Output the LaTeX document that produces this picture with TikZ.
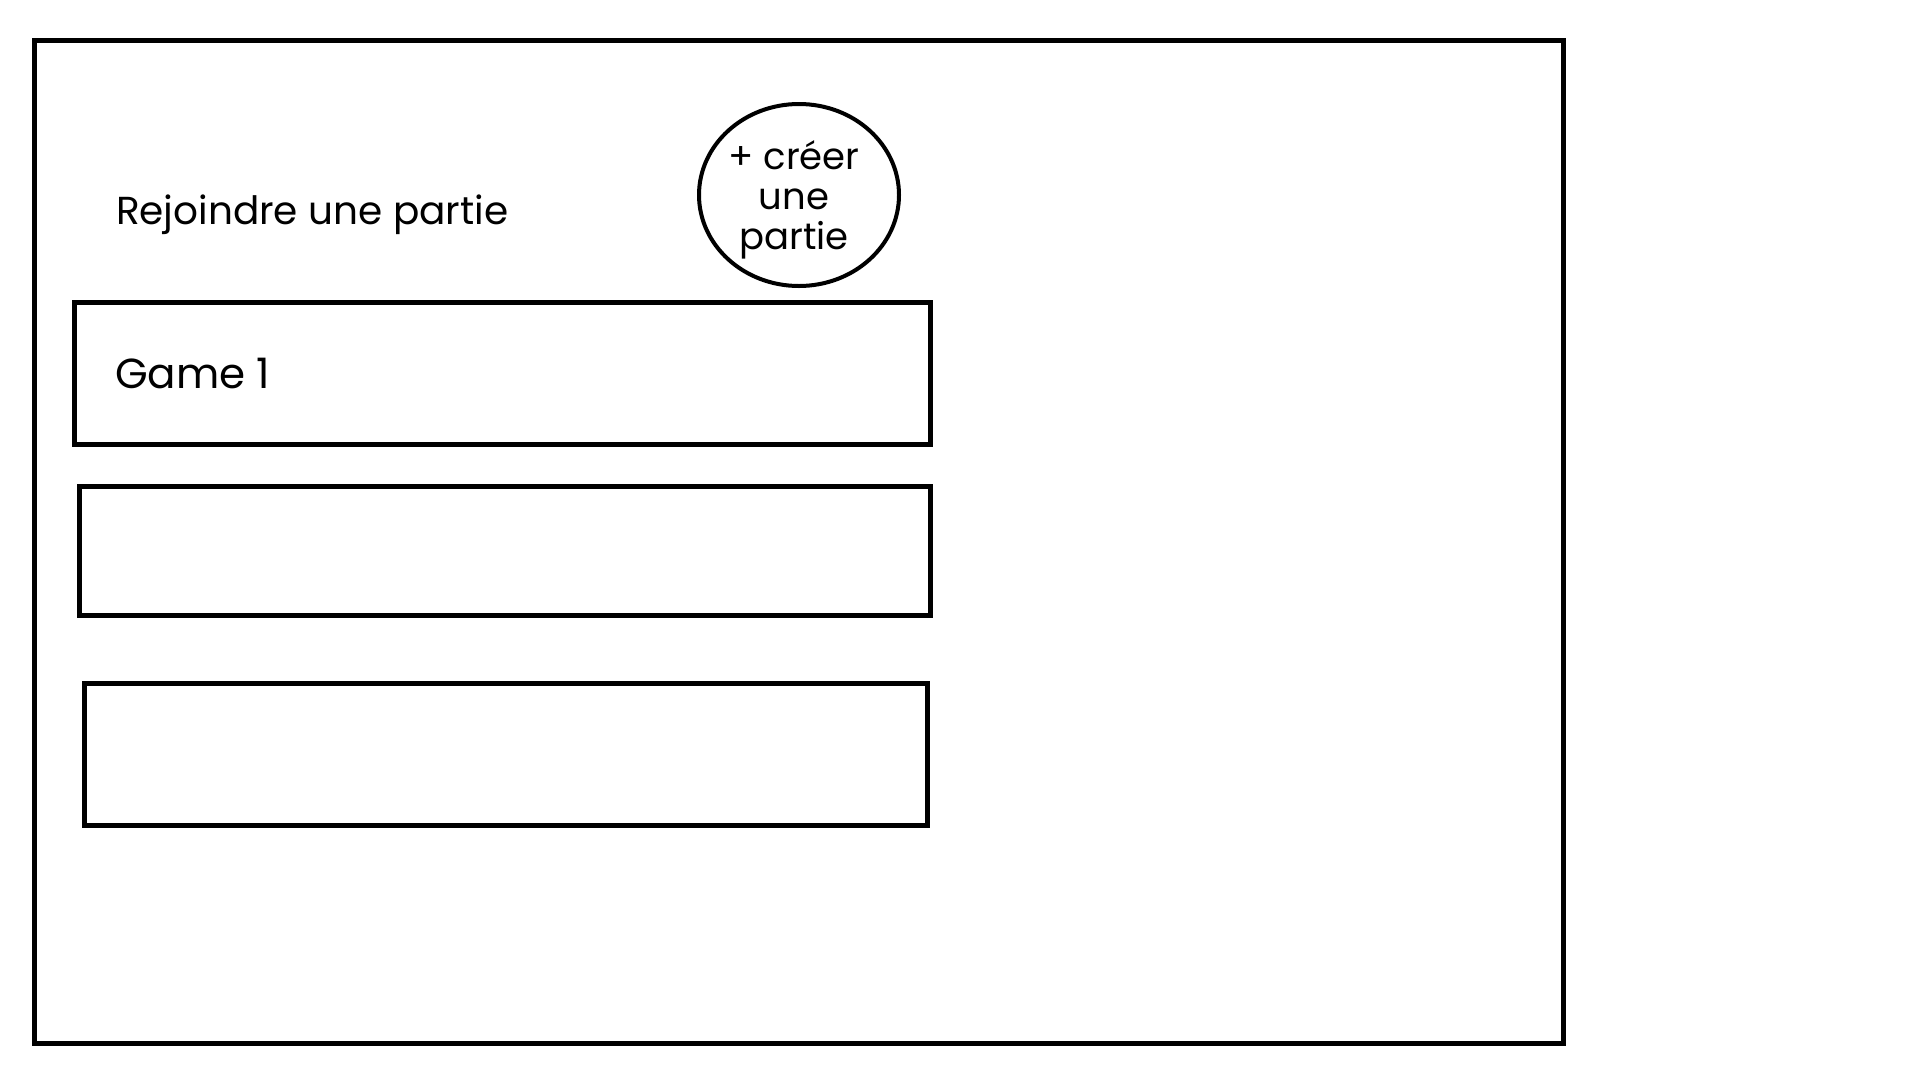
\documentclass[tikz,border=0pt]{standalone}
\usepackage{fontspec}
\setmainfont{Poppins}
\usetikzlibrary{shapes.geometric}
\begin{document}
\begin{tikzpicture}[x=1pt,y=-1pt,
  frame/.style={draw=black,line width=5pt,rectangle,inner sep=0pt,outer sep=0pt},
  bubble/.style={draw=black,line width=4pt,ellipse,inner sep=0pt},
  label/.style={inner sep=0pt,outer sep=0pt,font=\fontsize{39}{39}\selectfont}]
  \useasboundingbox[fill=white] (0,0) rectangle (1920,1080);
  % screen outline
  \node[frame,minimum width=1528.8pt,minimum height=1002.5pt] (screen) at (798.9,541.75) {};
  % title
  \node[label,anchor=base west] (title) at (116,224.5) {Rejoindre une partie};
  % create-game button
  \node[bubble,minimum width=200pt,minimum height=182pt] (create) at (799,195) {};
  \node[label,align=center,font=\fontsize{37}{40}\selectfont,anchor=base] (createtxt) at (794,249)
    {+ créer\\une\\partie};
  % list of games
  \node[frame,minimum width=855.9pt,minimum height=141.5pt] (g1) at (502.25,373.25) {};
  \node[label,anchor=base west,font=\fontsize{42}{42}\selectfont] (g1txt) at (115,388) {Game 1};
  \node[frame,minimum width=850.7pt,minimum height=128.5pt] (g2) at (504.85,550.75) {};
  \node[frame,minimum width=843.2pt,minimum height=141.8pt] (g3) at (505.9,754.3) {};
\end{tikzpicture}
\end{document}
